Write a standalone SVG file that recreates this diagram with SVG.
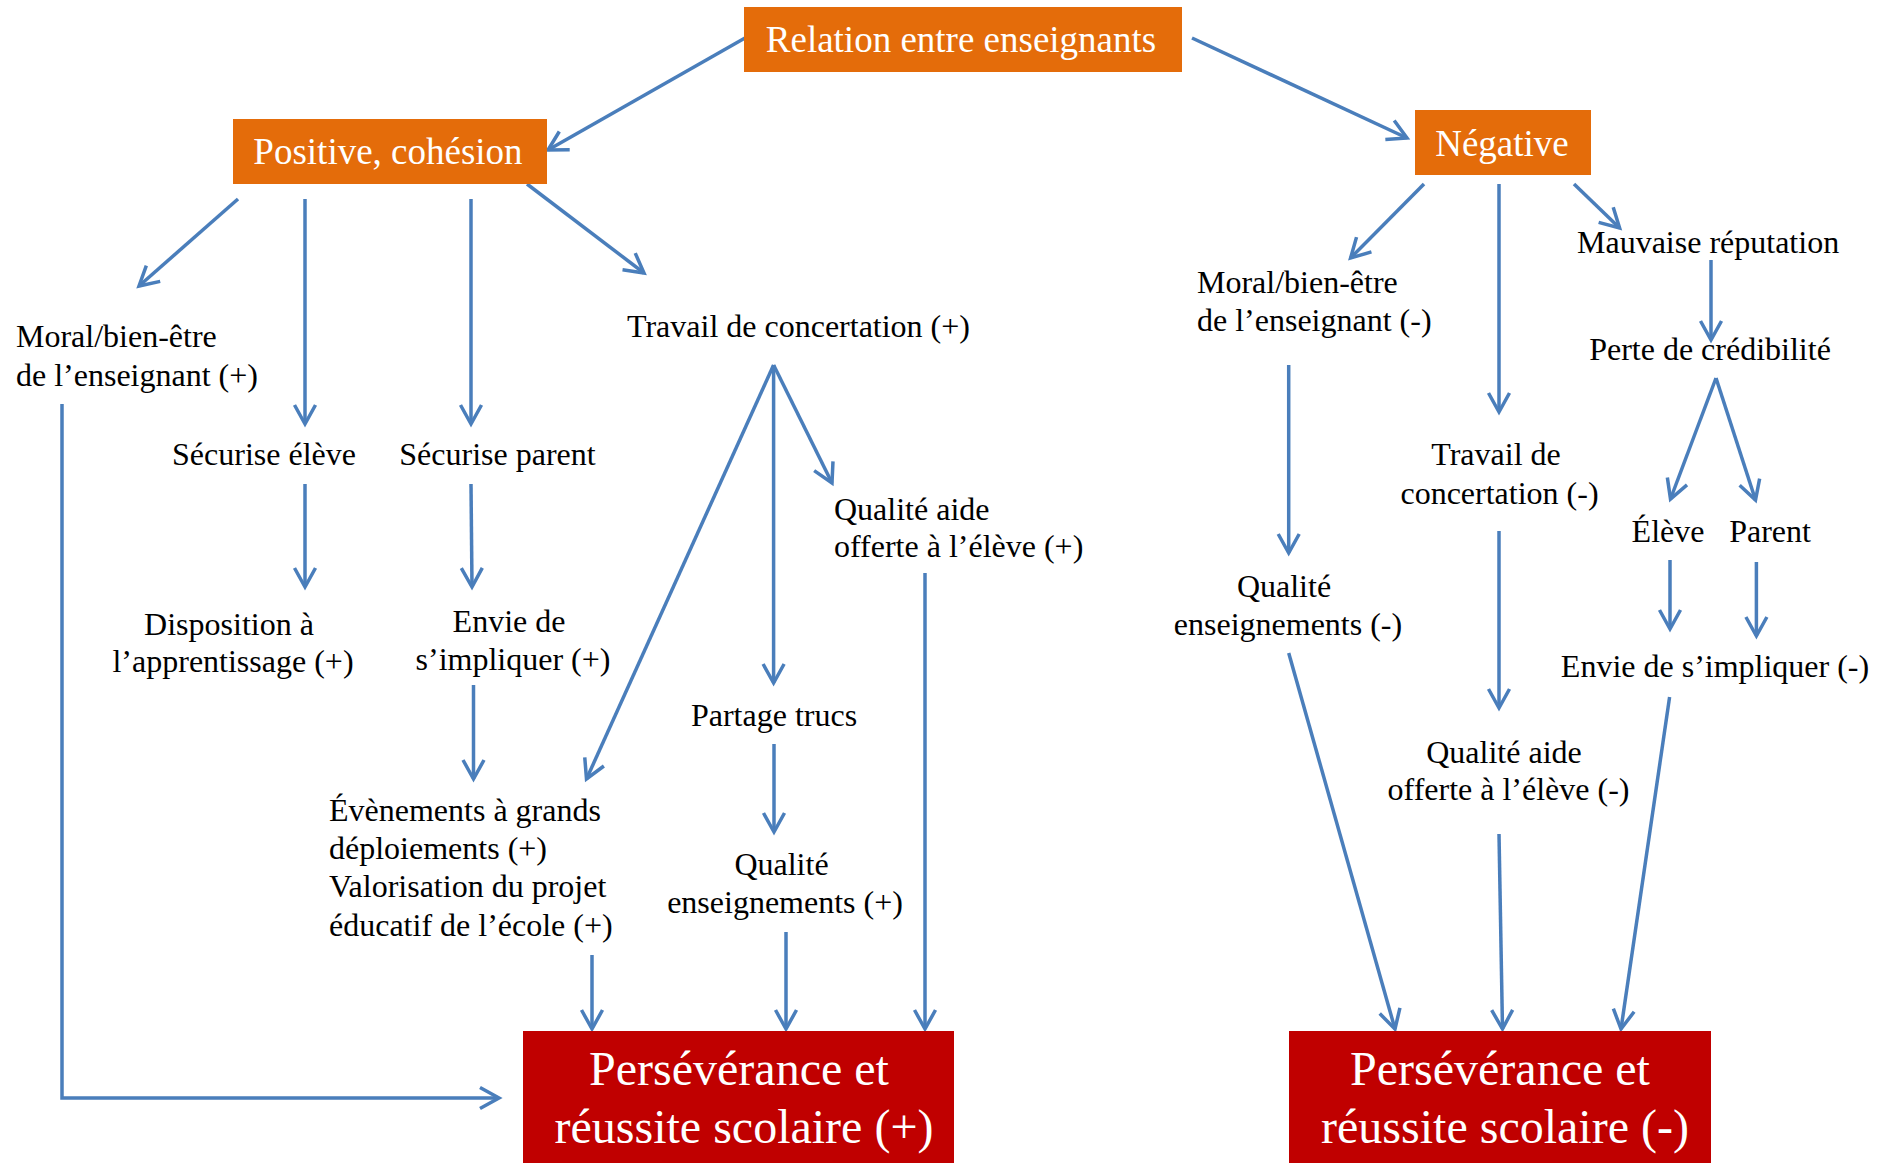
<svg xmlns="http://www.w3.org/2000/svg" width="1890" height="1163" viewBox="0 0 1890 1163">
<defs>
<marker id="arr" markerUnits="userSpaceOnUse" markerWidth="24" markerHeight="24" refX="0" refY="0" orient="auto" overflow="visible">
<path d="M-19,-10.5 L0,0 L-19,10.5" fill="none" stroke="#4A7EBB" stroke-width="3.5"/>
</marker>
</defs>
<style>
.c{fill:none;stroke:#4A7EBB;stroke-width:3.5;marker-end:url(#arr)}
.c0{fill:none;stroke:#4A7EBB;stroke-width:3.5}
.t{font-family:"Liberation Serif","Times New Roman",serif;font-size:32px;fill:#000}
.m{text-anchor:middle}
.h{font-family:"Liberation Serif","Times New Roman",serif;font-size:37px;fill:#fff;text-anchor:middle}
.b{font-family:"Liberation Serif","Times New Roman",serif;font-size:48px;fill:#fff;text-anchor:middle}
.or{fill:#E46C0A}
.rd{fill:#C00000}
</style>
<rect width="1890" height="1163" fill="#fff"/>

<g id="connectors">
<line class="c" x1="745" y1="38" x2="548" y2="150"/>
<line class="c" x1="1192" y1="38" x2="1407" y2="138"/>
<line class="c" x1="238" y1="199" x2="139" y2="286"/>
<line class="c" x1="305" y1="199" x2="305" y2="424"/>
<line class="c" x1="471" y1="199" x2="471" y2="424"/>
<line class="c" x1="527" y1="184" x2="644" y2="273"/>
<polyline class="c" points="62,404 62,1098 499,1098"/>
<line class="c" x1="305" y1="484" x2="305" y2="587"/>
<line class="c" x1="471" y1="484" x2="472" y2="587"/>
<line class="c" x1="473.5" y1="685" x2="473.5" y2="779"/>
<line class="c" x1="773.6" y1="365" x2="586.5" y2="779"/>
<line class="c" x1="773.6" y1="365" x2="773.6" y2="683"/>
<line class="c" x1="773.6" y1="365" x2="832" y2="483"/>
<line class="c" x1="774" y1="744" x2="774" y2="832"/>
<line class="c" x1="592" y1="955" x2="592" y2="1029"/>
<line class="c" x1="786" y1="932" x2="786" y2="1029"/>
<line class="c" x1="925" y1="573" x2="925" y2="1029"/>
<line class="c" x1="1424" y1="184" x2="1350.6" y2="258"/>
<line class="c" x1="1499" y1="184" x2="1499" y2="412"/>
<line class="c" x1="1574" y1="184" x2="1619.6" y2="228"/>
<line class="c" x1="1711" y1="260" x2="1711" y2="340"/>
<line class="c" x1="1716" y1="378" x2="1670.5" y2="499"/>
<line class="c" x1="1716" y1="378" x2="1755.5" y2="500"/>
<line class="c" x1="1288.7" y1="365" x2="1288.7" y2="553"/>
<line class="c" x1="1670" y1="560" x2="1670" y2="629"/>
<line class="c" x1="1756.4" y1="562" x2="1756.4" y2="636"/>
<line class="c" x1="1499" y1="531" x2="1499" y2="708"/>
<line class="c" x1="1288.7" y1="653" x2="1395" y2="1029"/>
<line class="c" x1="1499" y1="834" x2="1502.5" y2="1029"/>
<line class="c" x1="1669.6" y1="697" x2="1621" y2="1029"/>
</g>

<g id="relation">
<rect class="or" x="744" y="7" width="438" height="65"/>
<text class="h" x="961" y="52">Relation entre enseignants</text>
</g>
<g id="positive">
<rect class="or" x="233" y="119" width="314" height="65"/>
<text class="h" x="388" y="164">Positive, cohésion</text>
</g>
<g id="negative">
<rect class="or" x="1415" y="110" width="176" height="65"/>
<text class="h" x="1502" y="156">Négative</text>
</g>

<g id="moral-pos">
<text class="t" x="16" y="347">Moral/bien-être</text>
<text class="t" x="16" y="386">de l’enseignant (+)</text>
</g>
<g id="securise-eleve"><text class="t m" x="264" y="465">Sécurise élève</text></g>
<g id="securise-parent"><text class="t m" x="497.5" y="465">Sécurise parent</text></g>
<g id="travail-pos"><text class="t" x="627" y="337">Travail de concertation (+)</text></g>
<g id="disposition">
<text class="t m" x="229" y="635">Disposition à</text>
<text class="t m" x="233" y="672">l’apprentissage (+)</text>
</g>
<g id="envie-pos">
<text class="t m" x="509" y="632">Envie de</text>
<text class="t m" x="513" y="670">s’impliquer (+)</text>
</g>
<g id="qualite-aide-pos">
<text class="t" x="834" y="520">Qualité aide</text>
<text class="t" x="834" y="557">offerte à l’élève (+)</text>
</g>
<g id="partage"><text class="t m" x="774" y="726">Partage trucs</text></g>
<g id="evenements">
<text class="t" x="329" y="821">Évènements à grands</text>
<text class="t" x="329" y="859">déploiements (+)</text>
<text class="t" x="329" y="897">Valorisation du projet</text>
<text class="t" x="329" y="936">éducatif de l’école (+)</text>
</g>
<g id="qualite-ens-pos">
<text class="t m" x="781.5" y="875">Qualité</text>
<text class="t m" x="785" y="913">enseignements (+)</text>
</g>

<g id="mauvaise"><text class="t" x="1577" y="253">Mauvaise réputation</text></g>
<g id="moral-neg">
<text class="t" x="1197" y="293">Moral/bien-être</text>
<text class="t" x="1197" y="331">de l’enseignant (-)</text>
</g>
<g id="perte"><text class="t m" x="1710" y="360">Perte de crédibilité</text></g>
<g id="travail-neg">
<text class="t m" x="1496" y="465">Travail de</text>
<text class="t m" x="1499.5" y="504">concertation (-)</text>
</g>
<g id="eleve"><text class="t m" x="1668" y="542">Élève</text></g>
<g id="parent"><text class="t m" x="1770" y="542">Parent</text></g>
<g id="qualite-ens-neg">
<text class="t m" x="1284" y="597">Qualité</text>
<text class="t m" x="1288" y="635">enseignements (-)</text>
</g>
<g id="envie-neg"><text class="t m" x="1715" y="677">Envie de s’impliquer (-)</text></g>
<g id="qualite-aide-neg">
<text class="t m" x="1504" y="763">Qualité aide</text>
<text class="t m" x="1508.5" y="800">offerte à l’élève (-)</text>
</g>

<g id="reussite-pos">
<rect class="rd" x="523" y="1031" width="431" height="132"/>
<text class="b" x="739" y="1085">Persévérance et</text>
<text class="b" x="744" y="1143">réussite scolaire (+)</text>
</g>
<g id="reussite-neg">
<rect class="rd" x="1289" y="1031" width="422" height="132"/>
<text class="b" x="1500" y="1085">Persévérance et</text>
<text class="b" x="1505" y="1143">réussite scolaire (-)</text>
</g>
</svg>
